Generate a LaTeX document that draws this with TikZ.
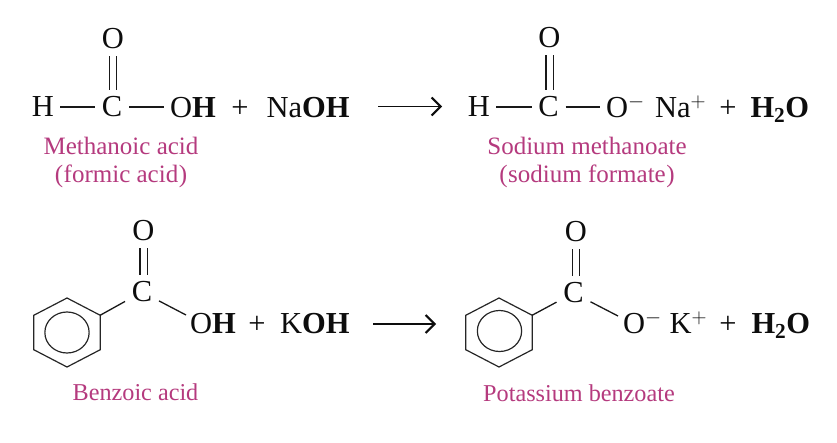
\documentclass[tikz,border=0pt]{standalone}
\usepackage{fontspec}
\setmainfont{Liberation Serif}
\usetikzlibrary{arrows.meta,shapes.geometric}
\definecolor{lab}{HTML}{B53A7E}
\tikzset{
  chem/.style={font=\fontsize{30.5}{32}\selectfont,text=black!95,inner sep=0pt,outer sep=0pt},
  atom/.style={chem,anchor=center,minimum width=34pt,minimum height=34pt},
  group/.style={chem,anchor=base west},
  sign/.style={chem,anchor=base},
  caption/.style={font=\fontsize{25}{28}\selectfont,text=lab,inner sep=0pt,anchor=base},
  smallcaption/.style={caption,font=\fontsize{24.2}{28}\selectfont},
  bond/.style={draw=black!90,line width=1.3pt},
  tobond/.style={bond,shorten >=6pt},
  dbl/.style={draw=black!90,line width=1.2pt,double=white,double distance=6pt},
  ringbox/.style={regular polygon,regular polygon sides=6,shape border rotate=30,draw=black!85,line width=1.2pt,minimum size=69pt,inner sep=0pt,outer sep=0pt,xscale=1.11,transform shape},
  inring/.style={circle,draw=black!85,line width=1.2pt,minimum size=41pt,inner sep=0pt,outer sep=0pt,xscale=1.08,transform shape},
  react/.style={draw=black!95,line width=1.8pt,-{Straight Barb[length=9pt,width=18pt,line width=2pt]}}
}
\begin{document}
\begin{tikzpicture}[x=1pt,y=-1pt]
\useasboundingbox[fill=white] (0,0) rectangle (837,442);
% first row, left
\node[atom] (o1) at (113,39) {O};
\node[atom] (h1) at (43,107) {H};
\node[atom] (c1) at (112,107) {C};
\node[group] (oh1) at (170,117) {O\textbf{H}};
\node[sign] (p1) at (240,117) {+};
\node[group] (naoh) at (266.5,117) {Na\textbf{OH}};
\coordinate (a1s) at (378,106.5);
\coordinate (a1e) at (442,106.5);
\draw[bond] (h1) -- (c1);
\draw[tobond] (c1) -- (c1 -| oh1.west);
\draw[dbl] (o1) -- (o1 |- c1.north);
\draw[react] (a1s) -- (a1e);
\node[caption] (n1) at (121,154) {Methanoic acid};
\node[caption] (n2) at (121,182) {(\kern.5pt formic acid\kern.5pt)};
% first row, right
\node[atom] (o2) at (549.5,38) {O};
\node[atom] (h2) at (479,107) {H};
\node[atom] (c2) at (548.5,107) {C};
\node[group] (om2) at (606,117) {O$^{-}$};
\node[group] (na2) at (655,117) {Na$^{+}$};
\node[sign] (p2) at (728,117) {+};
\node[group] (w2) at (750.5,117) {\textbf{H\textsubscript{2}O}};
\draw[bond] (h2) -- (c2);
\draw[tobond] (c2) -- (c2 -| om2.west);
\draw[dbl] (o2) -- (o2 |- c2.north);
\node[caption] (n3) at (587,154) {Sodium methanoate};
\node[caption] (n4) at (587,182) {(\kern.5pt sodium formate\kern.5pt)};
% second row, left
\node[ringbox] (r3) at (67,332.5) {};
\node[inring] (i3) at (67,332.5) {};
\node[atom] (o3) at (143.5,231) {O};
\node[atom] (c3) at (142,292) {C};
\node[group] (oh3) at (190,333) {O\textbf{H}};
\coordinate (j3) at ([xshift=-4pt,yshift=18pt]oh3.base west);
\node[sign] (p3) at (257,333) {+};
\node[group] (koh) at (280,333) {K\textbf{OH}};
\coordinate (a3s) at (373,324);
\coordinate (a3e) at (436,324);
\draw[bond] (r3.corner 6) -- (c3);
\draw[bond] (c3) -- (j3);
\draw[dbl] (o3) -- (o3 |- c3.north);
\draw[react] (a3s) -- (a3e);
\node[smallcaption] (n5) at (135.5,400) {Benzoic acid};
% second row, right
\node[ringbox] (r4) at (499,332.5) {};
\node[inring] (i4) at (499.5,331) {};
\node[atom] (o4) at (576,232) {O};
\node[atom] (c4) at (573.5,293) {C};
\node[group] (om4) at (623,333) {O$^{-}$};
\coordinate (j4) at ([xshift=-5pt,yshift=17pt]om4.base west);
\node[group] (k4) at (669.5,333) {K$^{+}$};
\node[sign] (p4) at (728,333) {+};
\node[group] (w4) at (751.5,333) {\textbf{H\textsubscript{2}O}};
\draw[bond] (r4.corner 6) -- (c4);
\draw[bond] (c4) -- (j4);
\draw[dbl] (o4) -- (o4 |- c4.north);
\node[smallcaption] (n6) at (579,401) {Potassium benzoate};
\end{tikzpicture}
\end{document}
